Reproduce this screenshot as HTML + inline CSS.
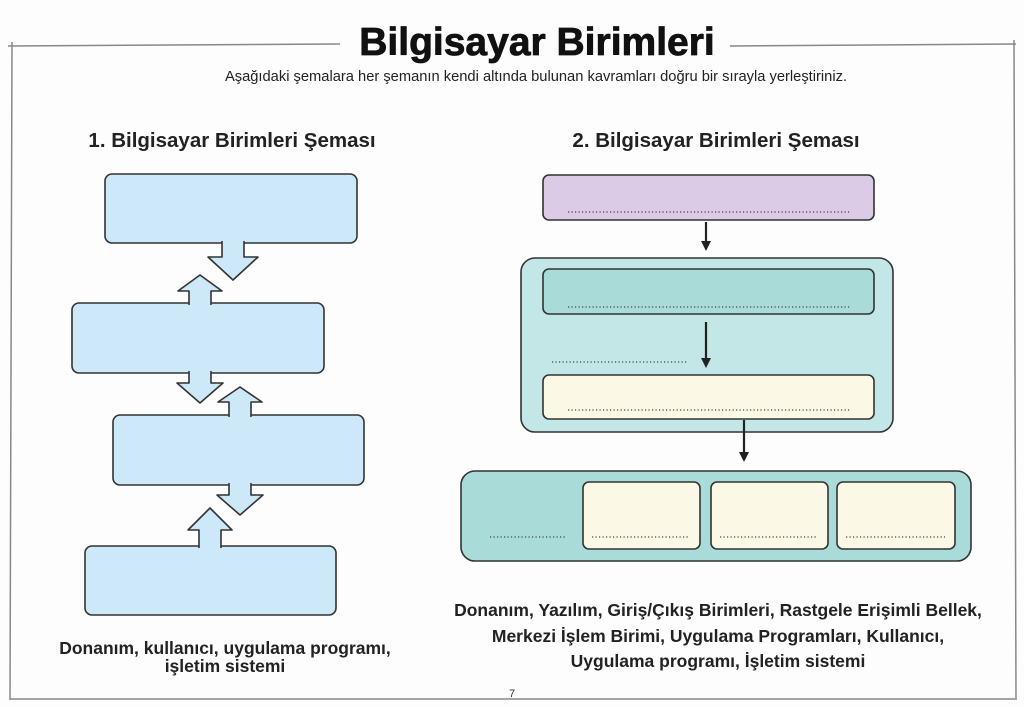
<!DOCTYPE html>
<html><head><meta charset="utf-8"><style>
body{margin:0;background:#fff;}
svg{display:block;}
text{font-family:"Liberation Sans",sans-serif;}
</style></head><body>
<svg width="1024" height="707" viewBox="0 0 1024 707" xmlns="http://www.w3.org/2000/svg">
<rect width="1024" height="707" fill="#fdfdfd"/>
<g stroke="#888" stroke-width="1.5" fill="none">
<path d="M8 46 L340 44"/><path d="M730 46 L1016 44"/>
<path d="M12 42 L10 700"/><path d="M1014 40 L1016 700"/>
<path d="M10 699 L1015 699"/>
</g>
<text x="537" y="55" text-anchor="middle" font-size="39" font-weight="bold" fill="#111" stroke="#111" stroke-width="0.8">Bilgisayar Birimleri</text>
<text x="536" y="81" text-anchor="middle" font-size="14.7" fill="#222">Aşağıdaki şemalara her şemanın kendi altında bulunan kavramları doğru bir sırayla yerleştiriniz.</text>
<text x="232" y="147" text-anchor="middle" font-size="20.5" font-weight="bold" fill="#222">1. Bilgisayar Birimleri Şeması</text>
<text x="716" y="147" text-anchor="middle" font-size="20.5" font-weight="bold" fill="#222">2. Bilgisayar Birimleri Şeması</text>

<g fill="#cde8f8" stroke="#333" stroke-width="1.6">
<rect x="105" y="174" width="252" height="69" rx="7"/>
<rect x="72" y="303" width="252" height="70" rx="7"/>
<rect x="113" y="415" width="251" height="70" rx="7"/>
<rect x="85" y="546" width="251" height="69" rx="7"/>
</g>
<g fill="#cde8f8" stroke="#333" stroke-width="1.6" stroke-linejoin="round">
<path d="M222 241 L222 257 L208 257 L233 280 L258 257 L244 257 L244 241" />
<path d="M189 371 L189 383 L177 383 L200 403 L223 383 L211 383 L211 371" />
<path d="M229 483 L229 495 L217 495 L240 515 L263 495 L251 495 L251 483" />
<path d="M189 305 L189 291 L178 291 L200 275 L222 291 L211 291 L211 305" />
<path d="M229 417 L229 402 L218 402 L240 387 L262 402 L251 402 L251 417" />
<path d="M199 548 L199 530 L188 530 L210 508 L232 530 L221 530 L221 548" />
</g>
<g fill="#cde8f8">
<rect x="223" y="238" width="20" height="8"/>
<rect x="190" y="368" width="20" height="8"/>
<rect x="230" y="480" width="20" height="8"/>
<rect x="190" y="300" width="20" height="8"/>
<rect x="230" y="412" width="20" height="8"/>
<rect x="200" y="543" width="20" height="8"/>
</g>

<g stroke="#333" stroke-width="1.6">
<rect x="543" y="175" width="331" height="45" rx="6" fill="#dccbe6"/>
<rect x="521" y="258" width="372" height="174" rx="14" fill="#c3e6e6"/>
<rect x="543" y="269" width="331" height="45" rx="6" fill="#a9dbd9"/>
<rect x="543" y="375" width="331" height="44" rx="6" fill="#fbf9e6"/>
<rect x="461" y="471" width="510" height="90" rx="14" fill="#a9dbd9"/>
<rect x="583" y="482" width="117" height="67" rx="6" fill="#fbf9e6"/>
<rect x="711" y="482" width="117" height="67" rx="6" fill="#fbf9e6"/>
<rect x="837" y="482" width="118" height="67" rx="6" fill="#fbf9e6"/>
</g>
<g stroke="#222" stroke-width="2.2">
<line x1="706" y1="222" x2="706" y2="242"/>
<line x1="706" y1="322" x2="706" y2="360"/>
<line x1="744" y1="420" x2="744" y2="453"/>
</g>
<g fill="#222">
<path d="M701 241 L711 241 L706 251 Z"/>
<path d="M701 358 L711 358 L706 368 Z"/>
<path d="M739 452 L749 452 L744 462 Z"/>
</g>
<g stroke="#444" stroke-width="1.2" stroke-dasharray="1.2 2.3">
<line x1="568" y1="212" x2="850" y2="212"/>
<line x1="568" y1="307" x2="850" y2="307"/>
<line x1="552" y1="362" x2="687" y2="362"/>
<line x1="568" y1="410" x2="850" y2="410"/>
<line x1="490" y1="537" x2="567" y2="537"/>
<line x1="592" y1="537" x2="690" y2="537"/>
<line x1="720" y1="537" x2="818" y2="537"/>
<line x1="846" y1="537" x2="945" y2="537"/>
</g>

<g font-size="17.5" font-weight="bold" fill="#222" text-anchor="middle">
<text x="225" y="654">Donanım, kullanıcı, uygulama programı,</text>
<text x="225" y="672">işletim sistemi</text>
<text x="718" y="616">Donanım, Yazılım, Giriş/Çıkış Birimleri, Rastgele Erişimli Bellek,</text>
<text x="718" y="642">Merkezi İşlem Birimi, Uygulama Programları, Kullanıcı,</text>
<text x="718" y="667">Uygulama programı, İşletim sistemi</text>
</g>
<text x="512" y="697" text-anchor="middle" font-size="11" fill="#333">7</text>
</svg>
</body></html>
